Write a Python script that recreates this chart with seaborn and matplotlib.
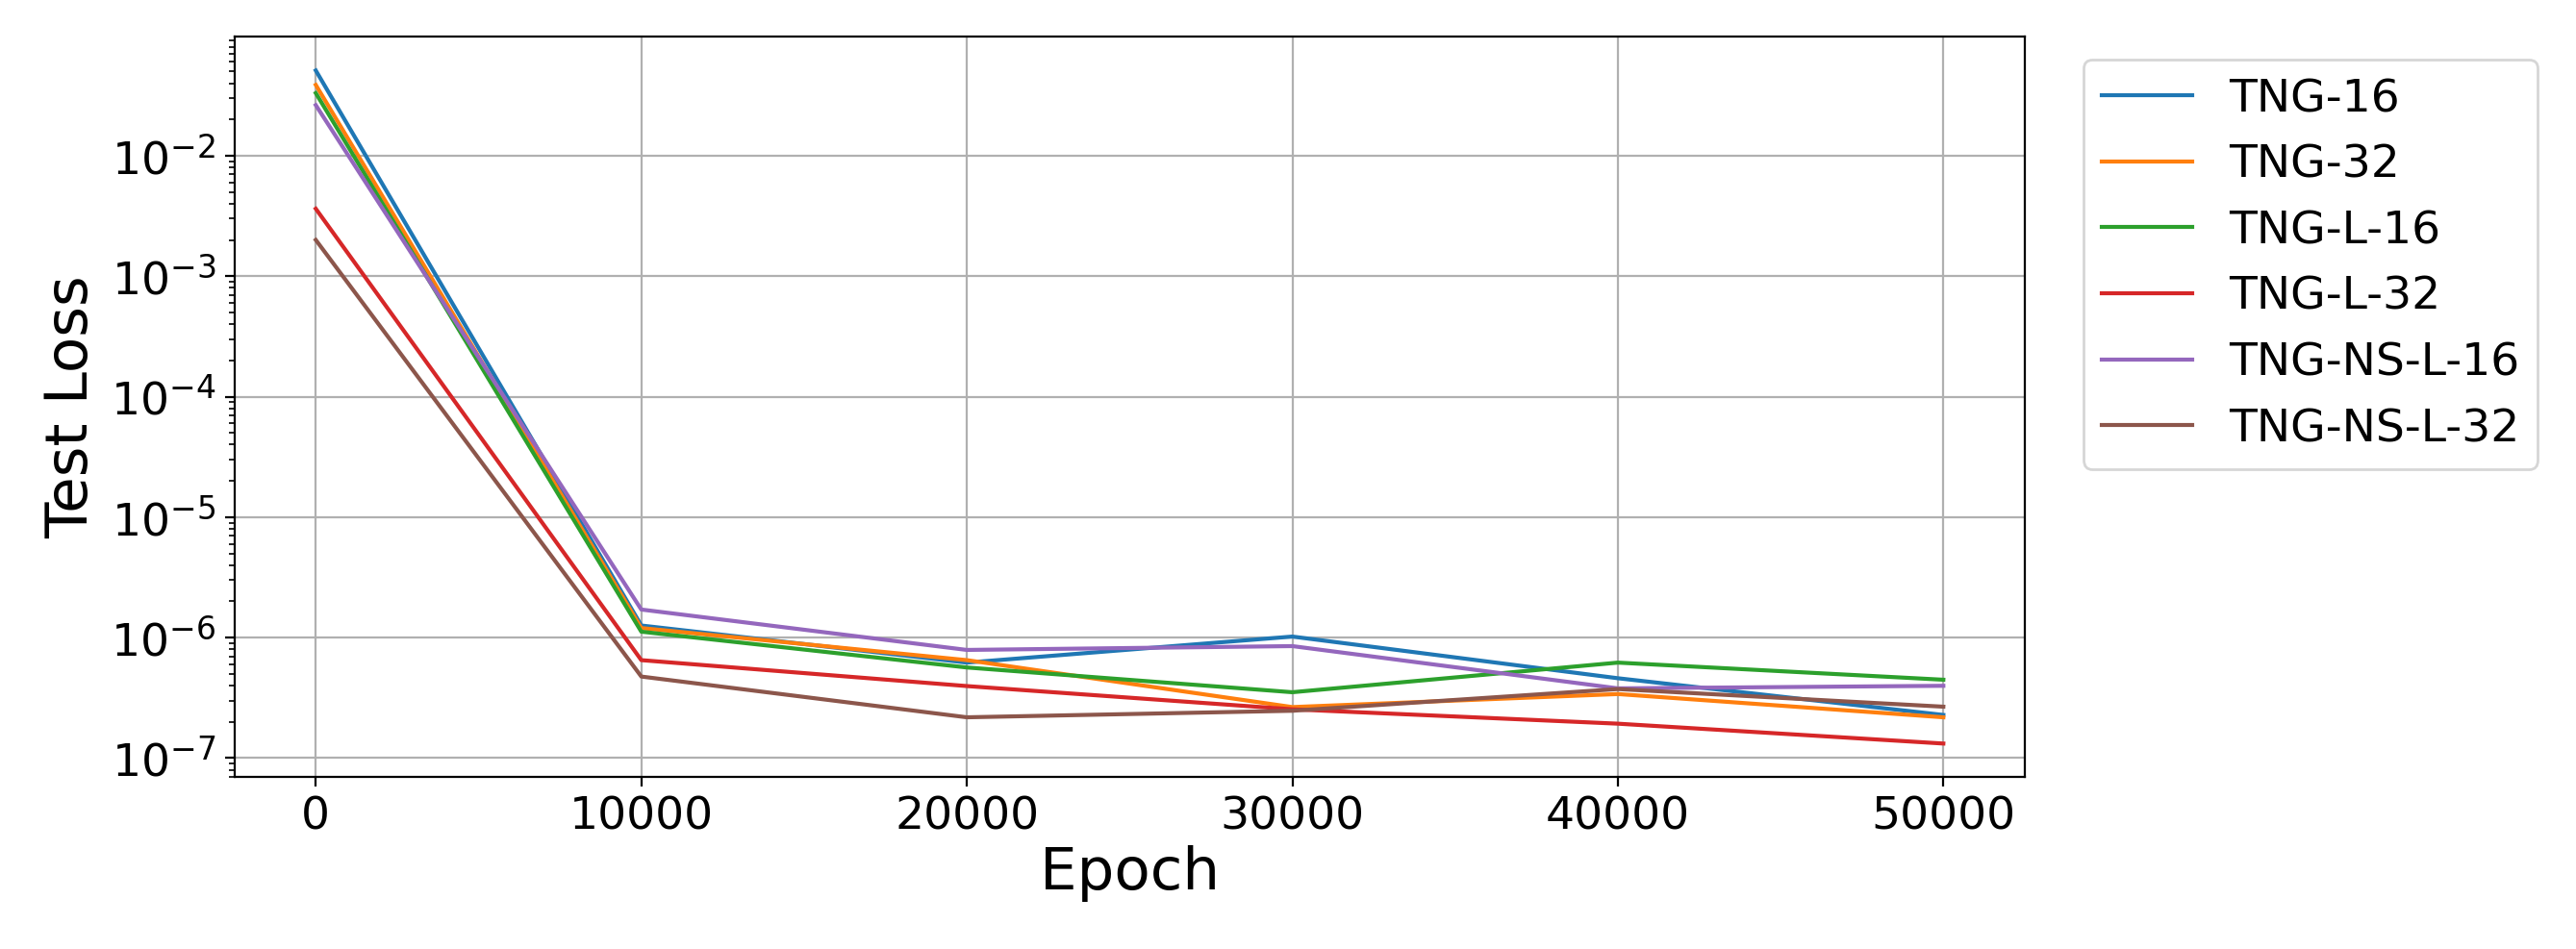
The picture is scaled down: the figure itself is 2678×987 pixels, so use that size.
import numpy as np
import pandas as pd
import seaborn as sns
import matplotlib.pyplot as plt

# test loss per model (log scale)
epochs = [0, 10000, 20000, 30000, 40000, 50000]
models = ["TNG-16", "TNG-32", "TNG-L-16", "TNG-L-32", "TNG-NS-L-16", "TNG-NS-L-32"]
tng_16 = [5.1e-2, 1.26e-6, 6.2e-7, 1.02e-6, 4.6e-7, 2.28e-7]
tng_32 = [3.87e-2, 1.2e-6, 6.5e-7, 2.65e-7, 3.4e-7, 2.18e-7]
tng_l_16 = [3.31e-2, 1.12e-6, 5.65e-7, 3.52e-7, 6.2e-7, 4.47e-7]
tng_l_32 = [3.63e-3, 6.5e-7, 3.96e-7, 2.54e-7, 1.93e-7, 1.32e-7]
tng_ns_l_16 = [2.63e-2, 1.71e-6, 7.9e-7, 8.5e-7, 3.79e-7, 3.98e-7]
tng_ns_l_32 = [2.0e-3, 4.75e-7, 2.18e-7, 2.47e-7, 3.74e-7, 2.67e-7]

losses = [tng_16, tng_32, tng_l_16, tng_l_32, tng_ns_l_16, tng_ns_l_32]
df = pd.concat([pd.DataFrame({"Epoch": epochs, "Test Loss": vals, "model": name})
                for name, vals in zip(models, losses)])

fig, ax = plt.subplots(figsize=(13.39, 4.936), dpi=200)
fig.subplots_adjust(left=0.091, right=0.786, top=0.961, bottom=0.181)

sns.lineplot(data=df, x="Epoch", y="Test Loss", hue="model", palette="tab10",
             linewidth=1.5, ax=ax)
ax.set_yscale("log")
ax.grid(True, color="#b0b0b0", linewidth=0.8)
ax.set_xticks([0, 10000, 20000, 30000, 40000, 50000])
ax.tick_params(labelsize=17)
ax.set_xlabel("Epoch", fontsize=22, labelpad=2)
ax.set_ylabel("Test Loss", fontsize=22)

sns.move_legend(ax, "upper left", bbox_to_anchor=(1.02, 1), title=None, fontsize=17)

plt.savefig("out.png", dpi=200)
